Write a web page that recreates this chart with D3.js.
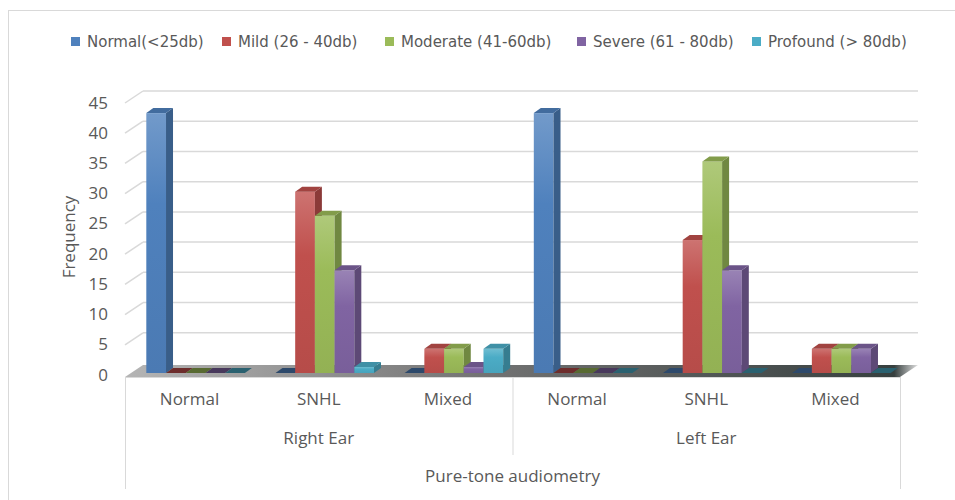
<!DOCTYPE html>
<html>
<head>
<meta charset="utf-8">
<script src="https://cdn.jsdelivr.net/npm/d3@7"></script>
<style>
  body { margin: 0; background: #fff; }
  text { fill: #595959; }
  .lg { font-family: "DejaVu Sans", sans-serif; font-size: 15px; }
  .ax { font-family: "Open Sans", sans-serif; font-size: 17px; }
</style>
</head>
<body>
<svg id="chart" width="955" height="500"></svg>
<script>
// data
const categories = ["Normal", "SNHL", "Mixed", "Normal", "SNHL", "Mixed"];
const ears = ["Right Ear", "Left Ear"];
const axisTitle = "Pure-tone audiometry";
const seriesNames = ["Normal(<25db)", "Mild (26 - 40db)", "Moderate (41-60db)", "Severe (61 - 80db)", "Profound (> 80db)"];
const normalVals   = [43, 0, 0, 43, 0, 0];
const mildVals     = [0, 30, 4, 0, 22, 4];
const moderateVals = [0, 26, 4, 0, 35, 4];
const severeVals   = [0, 17, 1, 0, 17, 4];
const profoundVals = [0, 1, 4, 0, 0, 0];
const yTicks = [0, 5, 10, 15, 20, 25, 30, 35, 40, 45];
const colors = ["#4f81bd", "#c0504d", "#9bbb59", "#8064a2", "#4bacc6"];

const series = [normalVals, mildVals, moderateVals, severeVals, profoundVals];

const svg = d3.select("#chart");
const defs = svg.append("defs");

// outer chart border (cropped on the right)
svg.append("rect").attr("x", 8.5).attr("y", 10.5).attr("width", 1000).attr("height", 520)
    .attr("fill", "#fff").attr("stroke", "#d9d9d9");

const left = 125, right = 900;
const back = { dx: 18, dy: -12 };    // wall depth
const depth = { dx: 7, dy: -5 };     // bar depth

const y = d3.scaleLinear().domain([0, 45]).range([374, 102]);
const xCat = d3.scaleBand().domain(d3.range(categories.length)).range([left, right]);
const x0 = d3.scaleBand().domain(d3.range(categories.length)).range([left, right])
    .paddingInner(0.237).paddingOuter(0.1185);
const x1 = d3.scaleBand().domain(d3.range(series.length)).range([0, x0.bandwidth()]);

const floorY = y(0) + 3;

// floor
const fg = defs.append("linearGradient").attr("id", "floor");
fg.append("stop").attr("offset", "0%").attr("stop-color", "#b5b5b5");
fg.append("stop").attr("offset", "45%").attr("stop-color", "#737373");
fg.append("stop").attr("offset", "97%").attr("stop-color", "#37403f");
fg.append("stop").attr("offset", "100%").attr("stop-color", "#e0e0e0");
svg.append("polygon")
    .attr("points", [[left, floorY], [right, floorY], [right + back.dx, floorY + back.dy], [left + back.dx, floorY + back.dy]].join(" "))
    .attr("fill", "url(#floor)");

// back wall gridlines + side wall diagonals
const grid = svg.append("g").attr("stroke", "#d9d9d9").attr("stroke-width", 1.5).attr("fill", "none");
yTicks.filter(v => v > 0).forEach(v => {
    const gy = y(v) + 1 + back.dy;
    grid.append("line").attr("x1", left + back.dx).attr("x2", right + back.dx).attr("y1", gy).attr("y2", gy);
    grid.append("line").attr("x1", left).attr("y1", y(v) + 1).attr("x2", left + back.dx).attr("y2", gy);
});

// y labels
svg.append("g").selectAll("text").data(yTicks).enter().append("text")
    .attr("class", "ax").attr("x", 108).attr("y", d => y(d))
    .attr("text-anchor", "end").attr("dominant-baseline", "central")
    .text(d => d);

svg.append("text").attr("class", "ax")
    .attr("transform", "translate(68,237) rotate(-90)")
    .attr("text-anchor", "middle").attr("dominant-baseline", "central")
    .text("Frequency");

// gradients for bar faces
colors.forEach((c, i) => {
    const g = defs.append("linearGradient").attr("id", "bar" + i)
        .attr("x1", 0).attr("y1", 0).attr("x2", 0).attr("y2", 1);
    g.append("stop").attr("offset", "0%").attr("stop-color", d3.interpolateRgb(c, "#fff")(0.2));
    g.append("stop").attr("offset", "35%").attr("stop-color", c);
    g.append("stop").attr("offset", "100%").attr("stop-color", d3.color(c).darker(0.15));
});

// bars, drawn left to right so each front face covers the previous side face
const bars = svg.append("g");
categories.forEach((cat, ci) => {
    series.forEach((vals, si) => {
        const v = vals[ci];
        const c = colors[si];
        const bx = x0(ci) + x1(si) + 6;
        const w = x1.bandwidth();
        const b0 = y(0) - 1, b1 = y(v) - 1;
        const top = [[bx, b1], [bx + w, b1], [bx + w + depth.dx, b1 + depth.dy], [bx + depth.dx, b1 + depth.dy]];
        if (v === 0) {
            bars.append("polygon").attr("points", top.join(" "))
                .attr("fill", d3.color(c).darker(1.6));
            return;
        }
        bars.append("rect").attr("x", bx).attr("y", b1).attr("width", w).attr("height", b0 - b1)
            .attr("fill", "url(#bar" + si + ")");
        bars.append("polygon")
            .attr("points", [[bx + w, b1], [bx + w + depth.dx, b1 + depth.dy], [bx + w + depth.dx, b0 + depth.dy], [bx + w, b0]].join(" "))
            .attr("fill", d3.color(c).darker(0.9));
        bars.append("polygon").attr("points", top.join(" "))
            .attr("fill", d3.color(c).darker(0.5));
    });
});

// category axis (two levels + title)
const ax = svg.append("g").attr("stroke", "#d9d9d9").attr("stroke-width", 1);
ax.append("line").attr("x1", left).attr("x2", right).attr("y1", floorY + 0.5).attr("y2", floorY + 0.5);
ax.append("line").attr("x1", left + 0.5).attr("x2", left + 0.5).attr("y1", floorY).attr("y2", 489);
ax.append("line").attr("x1", right + 0.5).attr("x2", right + 0.5).attr("y1", floorY).attr("y2", 489);
ax.append("line").attr("x1", xCat(3) + 0.5).attr("x2", xCat(3) + 0.5).attr("y1", floorY).attr("y2", 455);

svg.append("g").selectAll("text").data(categories).enter().append("text")
    .attr("class", "ax").attr("x", (d, i) => xCat(i) + xCat.bandwidth() / 2).attr("y", 398)
    .attr("text-anchor", "middle").attr("dominant-baseline", "central").text(d => d);

svg.append("g").selectAll("text").data(ears).enter().append("text")
    .attr("class", "ax").attr("x", (d, i) => (xCat(i * 3) + xCat(i * 3 + 2) + xCat.bandwidth()) / 2).attr("y", 437)
    .attr("text-anchor", "middle").attr("dominant-baseline", "central").text(d => d);

svg.append("text").attr("class", "ax").attr("x", (left + right) / 2).attr("y", 475)
    .attr("text-anchor", "middle").attr("dominant-baseline", "central").text(axisTitle);

// legend, item positions as laid out in the original
const legendX = [71, 222, 385, 577, 752];
const legend = svg.append("g");
seriesNames.forEach((name, i) => {
    legend.append("rect").attr("x", legendX[i]).attr("y", 37).attr("width", 9).attr("height", 9).attr("fill", colors[i]);
    legend.append("text").attr("class", "lg").attr("x", legendX[i] + 16).attr("y", 41.5)
        .attr("dominant-baseline", "central").text(name);
});
</script>
</body>
</html>
